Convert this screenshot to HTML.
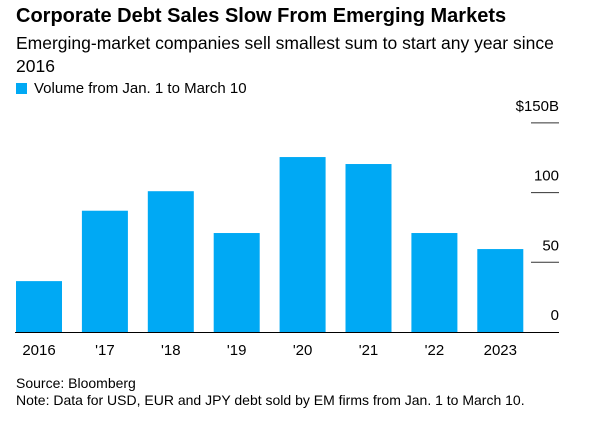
<!DOCTYPE html>
<html><head><meta charset="utf-8"><style>
body{margin:0;width:600px;height:426px;background:#fff;font-family:"Liberation Sans",Arial,sans-serif;color:#000;overflow:hidden;position:relative}
.t{position:absolute;white-space:nowrap}
</style></head><body>
<div class="t" style="left:16px;top:5px;font-size:20px;font-weight:bold">Corporate Debt Sales Slow From Emerging Markets</div>
<div class="t" style="left:16px;top:32px;font-size:17.5px;line-height:23px;white-space:normal;width:548px">Emerging-market companies sell smallest sum to start any year since 2016</div>
<div class="t" style="left:16px;top:80px;font-size:15px"><span style="display:inline-block;width:11px;height:11px;background:#00a9f4;margin-right:7px;vertical-align:-1px"></span>Volume from Jan. 1 to March 10</div>
<svg id="chart" width="600" height="426" style="position:absolute;left:0;top:0" font-family="Liberation Sans, Arial, sans-serif"></svg>
<div class="t" style="left:16px;top:375px;font-size:14px">Source: Bloomberg</div>
<div class="t" style="left:16px;top:392px;font-size:14px">Note: Data for USD, EUR and JPY debt sold by EM firms from Jan. 1 to March 10.</div>
<script>
const categories=["2016","'17","'18","'19","'20","'21","'22","2023"];
const values=[36.5,87,101,71,125.5,120.5,71,59.5];
const ticks=[0,50,100,150];
const tickLabels=["0","50","100","$150B"];
const svg=document.getElementById('chart');
const NS='http://www.w3.org/2000/svg';
const y0=332,pxPer=69.7/50;
function y(v){return y0-v*pxPer;}
function x(i){return 16+i*65.9;}
const bw=46;
function mk(t,a){const e=document.createElementNS(NS,t);for(const k in a)e.setAttribute(k,a[k]);svg.appendChild(e);return e;}
values.forEach((v,i)=>{
 const r=mk('rect',{x:x(i),y:y(v),width:bw,height:y0-y(v),fill:'#00a9f4'});
 
 
 const t=mk('text',{x:x(i)+bw/2,y:355,'text-anchor':'middle','font-size':15});
 t.textContent=categories[i];
 
 
});
ticks.forEach((v,i)=>{
 if(v>0){const l=mk('line',{x1:531,x2:559,y1:y(v),y2:y(v),stroke:'#333','stroke-width':1});
 
 }
 const t=mk('text',{x:559,y:y(v)-12,'text-anchor':'end','font-size':15});
 t.textContent=tickLabels[i];
 
 
});
const b=mk('line',{x1:15,x2:559,y1:y0+0.5,y2:y0+0.5,stroke:'#000','stroke-width':1});


</script>
</body></html>
